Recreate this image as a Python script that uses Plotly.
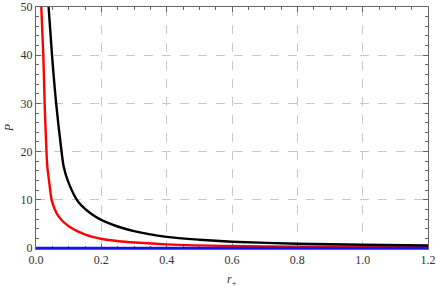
import plotly.graph_objects as go

# Values
r_red = [0.0162, 0.0224, 0.0265, 0.0315, 0.0346, 0.0407, 0.049, 0.069, 0.1, 0.151, 0.202, 0.253, 0.304, 0.4, 0.6, 0.8, 1.0, 1.2]
p_red = [50, 40, 29.8, 21, 16.9, 13.5, 9.66, 6.55, 4.48, 2.76, 1.86, 1.4, 1.12, 0.75, 0.4, 0.28, 0.22, 0.18]

r_black = [0.0386, 0.049, 0.062, 0.0765, 0.0846, 0.0999, 0.1285, 0.18, 0.23, 0.3, 0.4, 0.5, 0.6, 0.8, 1.0, 1.2]
p_black = [50, 40, 29.8, 21, 16.9, 13.5, 9.66, 6.6, 4.95, 3.5, 2.3, 1.7, 1.3, 0.88, 0.65, 0.5]

r_blue = [0.0, 1.2]
p_blue = [0.0, 0.0]

x_ticks = [0.0, 0.2, 0.4, 0.6, 0.8, 1.0, 1.2]
x_ticklabels = ["0.0", "0.2", "0.4", "0.6", "0.8", "1.0", "1.2"]
y_ticks = [0, 10, 20, 30, 40, 50]

font = "Liberation Serif, Times New Roman, serif"
axcol = "#666666"
txtcol = "#333333"

fig = go.Figure()
fig.add_trace(go.Scatter(x=r_red, y=p_red, mode="lines",
                         line=dict(color="#ff0000", width=2.4, shape="spline", smoothing=0.8), showlegend=False))
fig.add_trace(go.Scatter(x=r_black, y=p_black, mode="lines",
                         line=dict(color="#000000", width=2.4, shape="spline", smoothing=0.8), showlegend=False))
fig.add_trace(go.Scatter(x=r_blue, y=p_blue, mode="lines",
                         line=dict(color="#1414f0", width=2.4), showlegend=False))

common = dict(showline=True, linecolor=axcol, linewidth=1, mirror="allticks",
              ticks="inside", ticklen=5, tickcolor=axcol, tickwidth=1,
              showgrid=True, gridcolor="#c8c8c8", griddash="dash", gridwidth=1,
              zeroline=False, automargin=False, layer="below traces",
              tickfont=dict(family=font, size=12, color=txtcol))

fig.update_xaxes(range=[0, 1.2], tickvals=x_ticks, ticktext=x_ticklabels,
                 minor=dict(dtick=0.05, ticks="inside", ticklen=3, tickcolor=axcol, showgrid=False),
                 **common)
fig.update_yaxes(range=[-0.22, 50], tickvals=y_ticks,
                 minor=dict(dtick=2, tick0=0, ticks="inside", ticklen=3, tickcolor=axcol, showgrid=False),
                 **common)

fig.add_annotation(text="<i>r</i><sub>+</sub>", xref="paper", yref="paper", x=0.5, y=-0.085,
                   xanchor="center", yanchor="top", showarrow=False,
                   font=dict(family=font, size=12, color=txtcol))
fig.add_annotation(text="<i>P</i>", xref="paper", yref="paper", x=-0.045, y=0.5,
                   xanchor="right", yanchor="middle", showarrow=False, textangle=-90,
                   font=dict(family=font, size=12, color=txtcol))

fig.update_layout(width=436, height=287, margin=dict(l=36, r=8, t=7, b=38),
                  plot_bgcolor="white", paper_bgcolor="white",
                  font=dict(family=font, size=12, color=txtcol))

fig.write_html("out.html", config={"displayModeBar": False},
               post_script="document.body.style.margin='0px';")
